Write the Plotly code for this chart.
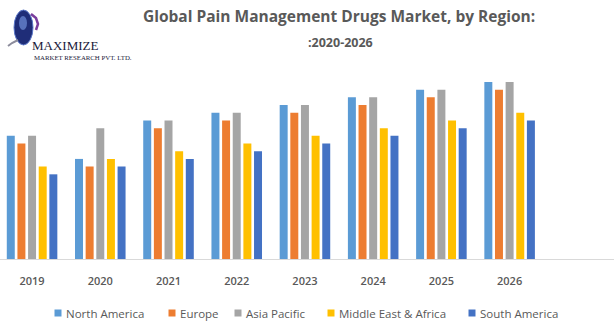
import plotly.graph_objects as go

years = ["2019", "2020", "2021", "2022", "2023", "2024", "2025", "2026"]
north_america = [16, 13, 18, 19, 20, 21, 22, 23]
europe = [15, 12, 17, 18, 19, 20, 21, 22]
asia_pacific = [16, 17, 18, 19, 20, 21, 22, 23]
middle_east_africa = [12, 13, 14, 15, 16, 17, 18, 19]
south_america = [11, 12, 13, 14, 15, 16, 17, 18]

series_names = ["North America", "Europe", "Asia Pacific", "Middle East & Africa", "South America"]
series_values = [north_america, europe, asia_pacific, middle_east_africa, south_america]
series_colors = ["#5B9BD5", "#ED7D31", "#A5A5A5", "#FFC000", "#4472C4"]

W, H = 614, 325
MT, MB = 60, 66

fig = go.Figure()
for name, vals, col in zip(series_names, series_values, series_colors):
    fig.add_trace(go.Bar(x=years, y=vals, name=name, marker_color=col,
                         marker_line_width=0, showlegend=False))

fig.update_layout(
    width=W, height=H,
    margin=dict(l=0, r=0, t=MT, b=MB, autoexpand=False),
    paper_bgcolor="white", plot_bgcolor="white",
    barmode="group", bargap=0.22, bargroupgap=0.25,
    font=dict(family="Open Sans", color="#595959"),
    xaxis=dict(type="category", range=[-0.47, 8.53], showgrid=False,
               showline=True, linecolor="#D9D9D9", linewidth=1,
               ticks="", ticklabelstandoff=12,
               tickfont=dict(size=11, color="#595959", weight=600),
               fixedrange=True),
    yaxis=dict(range=[0, 25.85], visible=False, fixedrange=True),
    showlegend=False,
)


def px(x, y):
    pw, ph = W, H - MT - MB
    return x / pw, (H - MB - y) / ph


def text(s, x, y, size, color="#595959", family="Open Sans", xanchor="center", weight=None):
    tx, ty = px(x, y)
    f = dict(size=size, color=color, family=family)
    if weight:
        f["weight"] = weight
    fig.add_annotation(text=s, x=tx, y=ty, xref="paper", yref="paper", showarrow=False,
                       xanchor=xanchor, yanchor="middle", font=f)


def path(d_points, color, width):
    pts = [px(x, y) for x, y in d_points]
    d = "M " + " L ".join(f"{a},{b}" for a, b in pts)
    fig.add_shape(type="path", xref="paper", yref="paper", path=d,
                  line=dict(color=color, width=width))


text("Global Pain Management Drugs Market, by Region:", 339, 16, 15.5, weight=700)
text(":2020-2026", 340, 42, 12.5, weight=700)
text("MAXIMIZE", 65, 45, 13, color="#1A1A3A", family="Liberation Serif")
text("MARKET RESEARCH PVT. LTD.", 83, 57, 6.8, color="#1A1A3A", family="Liberation Serif")

# logo globe
x0, y1 = px(14, 10)
x1, y0 = px(33, 45)
fig.add_shape(type="circle", xref="paper", yref="paper", x0=x0, x1=x1, y0=y0, y1=y1,
              fillcolor="#1F2D78", line=dict(color="#5C78C8", width=1))
x0, y1 = px(19, 16)
x1, y0 = px(27, 30)
fig.add_shape(type="circle", xref="paper", yref="paper", x0=x0, x1=x1, y0=y0, y1=y1,
              fillcolor="#6F8FD8", line=dict(width=0), opacity=0.7)
path([(31, 14), (36, 18), (38, 24), (36, 30)], "#7A3E9D", 2.5)
path([(8, 46), (12, 43), (18, 40)], "#8C8C9C", 2)

# legend (key) built from series names/colors
legend_x = [58, 172, 238, 331, 472]
ly = 313
for name, col, lx in zip(series_names, series_colors, legend_x):
    ax0, ay1 = px(lx - 3.5, ly - 3.5)
    ax1, ay0 = px(lx + 3.5, ly + 3.5)
    fig.add_shape(type="rect", xref="paper", yref="paper", x0=ax0, x1=ax1, y0=ay0, y1=ay1,
                  fillcolor=col, line=dict(width=0))
    text(name, lx + 6, ly, 11.5, xanchor="left", weight=500)

fig.write_html("out.html")
